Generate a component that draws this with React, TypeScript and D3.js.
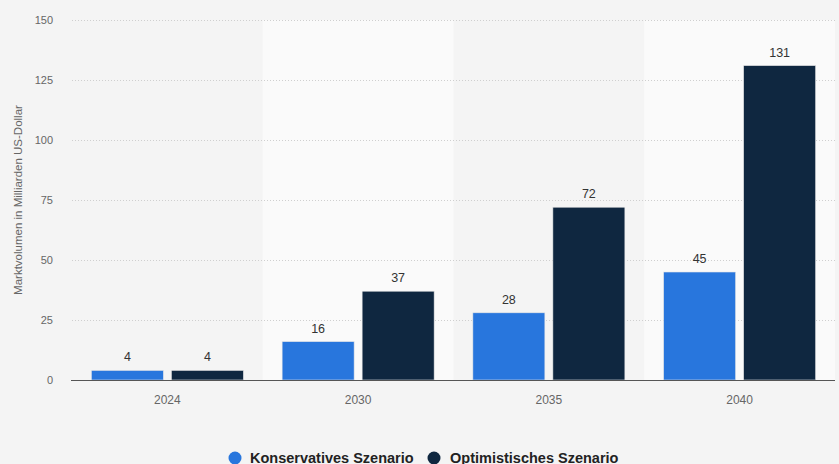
import React from "react";
import * as d3 from "d3";

const categories = ["2024", "2030", "2035", "2040"];
const seriesNames = ["Konservatives Szenario", "Optimistisches Szenario"];
const konservativ = [4, 16, 28, 45];
const optimistisch = [4, 37, 72, 131];
const yTicks = [0, 25, 50, 75, 100, 125, 150];
const colors = ["#2876dd", "#0f2740"];

const W = 839;
const H = 464;
const left = 72;
const right = 835;
const top = 20;
const bottom = 380;

export default function App() {
  const x = d3.scaleBand<string>().domain(categories).range([left, right]).padding(0);
  const inner = d3
    .scaleBand<string>()
    .domain(seriesNames)
    .range([0, x.bandwidth()])
    .paddingInner(0.1)
    .paddingOuter(0.242);
  const y = d3.scaleLinear().domain([0, 150]).range([bottom, top]);
  const series = [konservativ, optimistisch];

  return (
    <svg
      width={W}
      height={H}
      style={{ position: "absolute", left: 0, top: 0, display: "block" }}
      fontFamily="'Liberation Sans', Arial, Helvetica, sans-serif"
    >
      <rect x={0} y={0} width={W} height={H} fill="#f4f4f4" />
      {categories.map((c, i) =>
        i % 2 === 1 ? (
          <rect key={c} x={x(c)} y={top} width={x.bandwidth()} height={bottom - top} fill="#fafafa" />
        ) : null
      )}
      {yTicks.map((t) => (
        <g key={t}>
          {t > 0 && (
            <line
              x1={left}
              x2={right}
              y1={y(t) + 0.5}
              y2={y(t) + 0.5}
              stroke="#cfcfcf"
              strokeDasharray="1,2"
              strokeWidth={1}
            />
          )}
          <text x={53} y={y(t) + 4} textAnchor="end" fontSize={11} fill="#666">
            {t}
          </text>
        </g>
      ))}
      <text
        transform={`translate(22,${(top + bottom) / 2}) rotate(-90)`}
        textAnchor="middle"
        fontSize={11.5}
        fill="#666"
      >
        Marktvolumen in Milliarden US-Dollar
      </text>
      {categories.map((c, i) => (
        <g key={c}>
          {series.map((s, j) => {
            const bx = (x(c) as number) + (inner(seriesNames[j]) as number);
            const by = y(s[i]);
            return (
              <g key={j}>
                <rect
                  x={bx}
                  y={by}
                  width={inner.bandwidth()}
                  height={bottom - by}
                  fill={colors[j]}
                  stroke="#e6e6e6"
                  strokeWidth={0.6}
                />
                <text
                  x={bx + inner.bandwidth() / 2}
                  y={by - 9}
                  textAnchor="middle"
                  fontSize={12.5}
                  fill="#333"
                >
                  {s[i]}
                </text>
              </g>
            );
          })}
          <text
            x={(x(c) as number) + x.bandwidth() / 2}
            y={404}
            textAnchor="middle"
            fontSize={12}
            fill="#666"
          >
            {c}
          </text>
        </g>
      ))}
      <line x1={left - 1} x2={right} y1={bottom + 0.5} y2={bottom + 0.5} stroke="#555" strokeWidth={1.2} />
      <g>
        <circle cx={235} cy={458} r={6.5} fill={colors[0]} />
        <text x={250} y={463} fontSize={14.5} fontWeight="bold" fill="#222">
          {seriesNames[0]}
        </text>
        <circle cx={434} cy={458} r={6.5} fill={colors[1]} />
        <text x={450} y={463} fontSize={14.5} fontWeight="bold" fill="#222">
          {seriesNames[1]}
        </text>
      </g>
    </svg>
  );
}
